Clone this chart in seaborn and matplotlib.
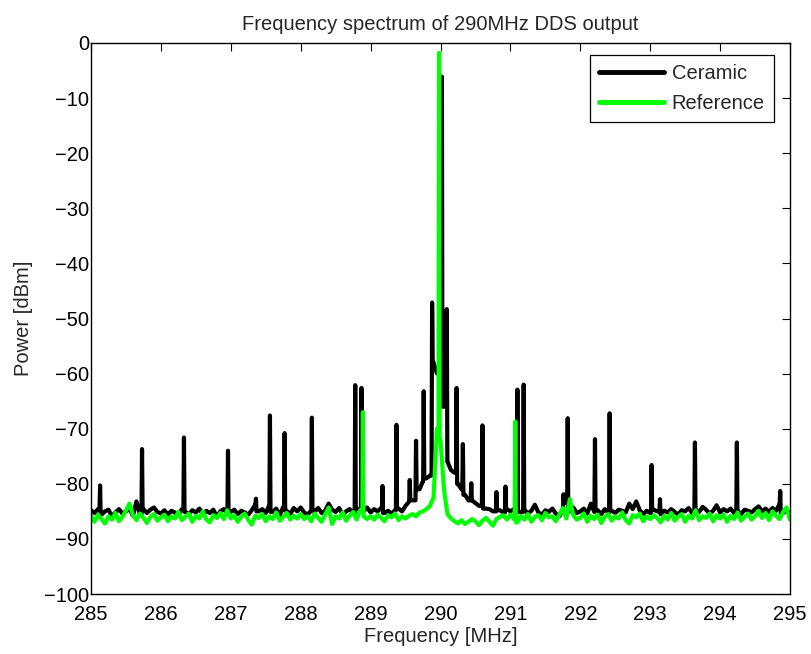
import numpy as np
import pandas as pd
import matplotlib
matplotlib.use("Agg")
import matplotlib.pyplot as plt
import seaborn as sns

# ---------------- data ----------------
grid_start = 285.0
grid_step = 0.05

ceramic_floor = [
    -84.8, -85.3, -84.6, -85.6, -85.0, -84.7, -85.9, -85.2, -84.6, -85.4, -85.0, -84.5, -85.8, -83.2, -85.6, -84.6, -85.3, -84.7, -84.3, -85.1,
    -85.4, -84.8, -85.6, -84.9, -85.2, -85.7, -84.6, -85.1, -85.5, -84.8, -85.2, -84.5, -85.6, -84.9, -85.3, -84.7, -86.0, -85.0, -84.6, -85.4,
    -85.1, -84.7, -85.5, -84.9, -85.2, -85.6, -84.8, -83.8, -85.0, -84.6, -85.3, -83.9, -85.1, -84.5, -85.7, -84.2, -84.9, -85.5, -84.4, -85.0,
    -84.3, -85.2, -85.6, -84.8, -85.0, -84.4, -85.3, -84.9, -83.6, -84.7, -85.1, -84.4, -85.6, -85.0, -84.6, -85.3, -84.5, -84.8, -85.0, -84.3,
    -85.2, -84.6, -85.0, -84.4, -85.3, -84.9, -85.4, -84.8, -84.5, -85.0, -84.0, -83.2, -83.0, -82.0, -81.0, -79.5, -79.0, -78.5, -58.0, -60.0,
    -58.0, -66.0, -76.0, -77.5, -78.0, -80.0, -81.0, -82.0, -83.0, -83.0, -83.5, -84.0, -84.0, -84.5, -84.6, -85.0, -84.2, -84.8, -85.2, -84.6,
    -85.0, -84.6, -85.3, -85.1, -84.7, -85.4, -84.9, -83.8, -85.2, -85.6, -84.8, -85.1, -84.5, -85.4, -85.9, -84.8, -83.4, -85.0, -84.3, -85.3,
    -85.0, -84.5, -85.4, -83.6, -85.1, -84.8, -85.5, -84.6, -85.2, -84.9, -85.3, -84.7, -84.9, -85.2, -83.6, -84.6, -83.2, -84.8, -85.5, -84.9,
    -85.3, -84.7, -85.0, -85.5, -84.9, -85.2, -84.6, -85.1, -85.6, -84.8, -85.0, -84.4, -85.3, -84.8, -85.1, -84.2, -84.7, -85.4, -84.9, -83.9,
    -85.2, -84.6, -85.0, -84.5, -85.3, -84.9, -85.5, -84.7, -84.9, -85.2, -84.6, -84.1, -85.0, -84.5, -85.1, -84.4, -84.9, -83.7, -85.3, -84.8,
    -85.3,
]

reference_floor = [
    -85.8, -86.9, -85.6, -86.4, -87.2, -85.9, -86.5, -85.3, -86.8, -86.0, -84.9, -83.6, -85.7, -86.6, -85.4, -86.2, -87.1, -86.0, -85.5, -86.7,
    -86.1, -85.6, -86.8, -85.9, -86.3, -85.1, -86.6, -86.0, -85.4, -86.9, -85.8, -86.3, -85.0, -86.5, -87.0, -85.7, -86.2, -85.3, -86.4, -84.8,
    -86.3, -85.7, -86.9, -86.0, -85.4, -86.6, -87.4, -85.8, -86.2, -85.5, -86.8, -85.9, -86.4, -85.2, -86.7, -86.0, -85.3, -86.5, -85.8, -86.3,
    -85.5, -86.4, -85.9, -86.8, -85.4, -86.2, -86.9, -85.6, -84.3, -87.3, -85.9, -86.3, -85.2, -86.7, -85.8, -85.1, -86.5, -84.8, -85.9, -86.4,
    -85.9, -86.5, -85.6, -86.2, -86.8, -85.7, -86.1, -85.4, -86.6, -85.9, -86.3, -85.8, -85.5, -85.9, -85.2, -85.0, -84.6, -84.0, -82.5, -70.0,
    -72.0, -81.0, -85.5, -86.3, -86.8, -87.2, -86.6, -87.3, -86.9, -86.4, -86.8, -87.5, -86.7, -86.2, -86.9, -87.6, -86.4, -86.0, -85.7, -86.5,
    -85.6, -86.4, -87.0, -85.8, -86.5, -85.5, -86.9, -86.0, -85.7, -86.6, -85.3, -86.1, -85.9, -86.8, -85.6, -84.4, -86.3, -82.8, -85.7, -86.5,
    -86.2, -85.4, -86.9, -85.8, -86.4, -85.6, -87.1, -86.0, -85.5, -86.7, -85.9, -86.3, -85.2, -86.6, -87.2, -85.7, -86.1, -85.4, -86.8, -85.9,
    -86.4, -85.7, -86.2, -87.0, -85.8, -86.5, -85.3, -86.7, -86.0, -85.5, -86.9, -85.8, -86.3, -84.8, -86.6, -85.9, -86.2, -85.4, -86.8, -85.7,
    -86.3, -85.6, -86.9, -85.8, -86.4, -85.2, -86.7, -86.0, -85.4, -86.5, -85.9, -84.9, -86.2, -85.3, -86.6, -85.0, -85.8, -86.4, -85.1, -84.3,
    -86.5,
]

ceramic_spike_freq = [285.13, 285.73, 286.33, 286.96, 287.36, 287.56, 287.77, 288.16, 288.78, 288.87,
                      289.17, 289.37, 289.56, 289.65, 289.76, 289.88, 290.02, 290.09, 290.23, 290.32,
                      290.44, 290.60, 290.80, 290.93, 291.10, 291.19, 291.76, 291.82, 292.21, 292.42,
                      293.02, 293.14, 293.64, 294.24, 294.86]
ceramic_spike_db = [-80.3, -73.7, -71.6, -74.0, -82.7, -67.6, -70.8, -68.0, -62.1, -62.6,
                    -80.4, -69.3, -79.3, -72.2, -63.2, -47.1, -6.1, -48.3, -62.6, -72.8,
                    -79.9, -69.4, -81.5, -80.5, -62.9, -62.0, -81.9, -68.1, -71.9, -67.2,
                    -76.6, -82.8, -72.5, -72.5, -81.3]

reference_spike_freq = [288.89, 289.98, 291.07]
reference_spike_db = [-67.0, -1.8, -68.7]

series_names = ["Ceramic", "Reference"]
series_colors = ["#000000", "#00ff00"]


def build_series(floor, spike_f, spike_db, half=0.008):
    grid = np.round(grid_start + grid_step * np.arange(len(floor)), 3)
    floor = np.asarray(floor, dtype=float)
    keep = np.ones(len(grid), dtype=bool)
    xs, ys = [], []
    for f, d in zip(spike_f, spike_db):
        keep &= np.abs(grid - f) > half + 0.001
        li = np.where(grid < f - 0.005)[0]
        ri = np.where(grid > f + 0.005)[0]
        bl = floor[li[-1]] if len(li) else floor[0]
        br = floor[ri[0]] if len(ri) else floor[-1]
        xs += [f - half, f, f + half]
        ys += [bl, d, br]
    xs += list(grid[keep])
    ys += list(floor[keep])
    order = np.argsort(xs)
    return np.asarray(xs)[order], np.asarray(ys)[order]


frames = []
for name, fl, sf, sd in [("Ceramic", ceramic_floor, ceramic_spike_freq, ceramic_spike_db),
                         ("Reference", reference_floor, reference_spike_freq, reference_spike_db)]:
    x, y = build_series(fl, sf, sd)
    frames.append(pd.DataFrame({"Frequency": x, "Power": y, "Series": name}))
df = pd.concat(frames, ignore_index=True)

# ---------------- style ----------------
sns.set_style("white")
plt.rcParams["font.family"] = ["Liberation Sans", "DejaVu Sans"]
plt.rcParams["font.size"] = 14.5

W, H = 812, 654
fig = plt.figure(figsize=(W / 100, H / 100), dpi=100)
ax = fig.add_axes([91 / W, 1 - 594 / H, (790 - 91) / W, (594 - 43) / H])

sns.lineplot(data=df, x="Frequency", y="Power", hue="Series", hue_order=series_names,
             palette=series_colors, estimator=None, sort=False, linewidth=3.0, ax=ax)

ax.set_xlim(285, 295)
ax.set_ylim(-100, 0)
ax.set_xticks(np.arange(285, 296, 1))
ax.set_yticks(np.arange(-100, 1, 10))
ax.tick_params(direction="in", length=6, width=0.8, top=True, right=True,
               labelsize=14.5, colors="black")
ax.tick_params(axis="x", pad=8)
ax.tick_params(axis="y", pad=1.5)
for s in ax.spines.values():
    s.set_visible(True)
    s.set_color("black")
    s.set_linewidth(1.0)

ax.set_xlabel("Frequency [MHz]", fontsize=14.5, labelpad=2)
ax.set_ylabel("Power [dBm]", fontsize=14.5, labelpad=8)
ax.set_title("Frequency spectrum of 290MHz DDS output", fontsize=14.5, pad=9)

leg = ax.legend(loc="upper right", bbox_to_anchor=(1 - 16 / 699, 1 - 12 / 551),
                frameon=True, fancybox=False, framealpha=1, edgecolor="black",
                fontsize=14.5, handlelength=3.2, handletextpad=0.4,
                borderpad=0.45, labelspacing=0.55, borderaxespad=0)
leg.get_frame().set_linewidth(0.9)
for line in leg.get_lines():
    line.set_linewidth(3.5)

fig.savefig("out.png", dpi=100)
